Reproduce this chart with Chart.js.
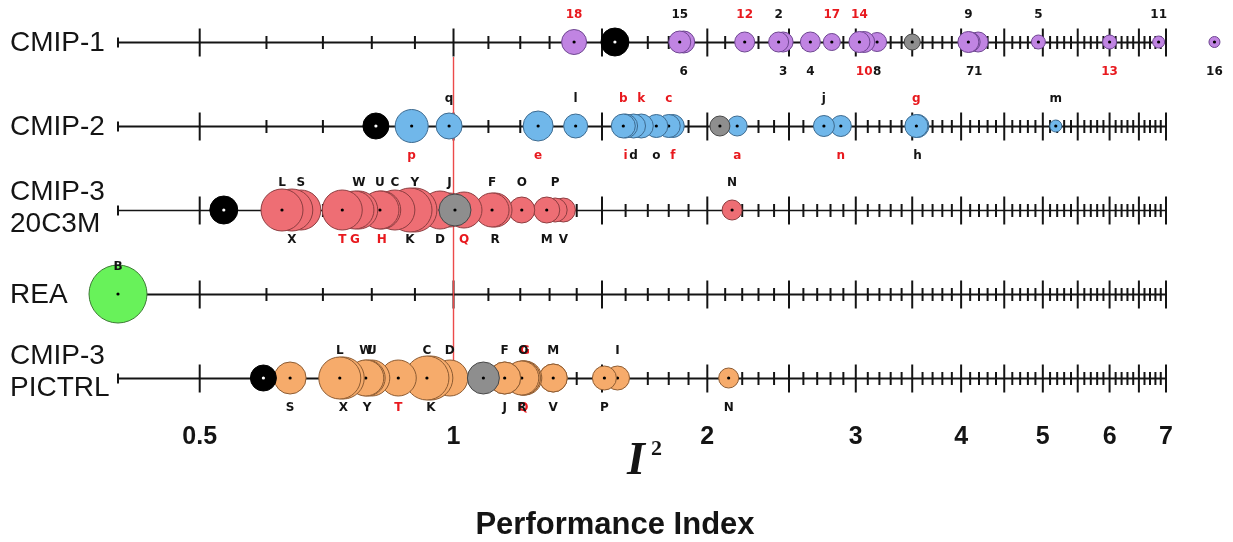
<!DOCTYPE html>
<html>
<head>
<meta charset="utf-8">
<script src="https://cdn.jsdelivr.net/npm/chart.js@4.4.1/dist/chart.umd.min.js"></script>
<style>
  html, body { margin: 0; padding: 0; background: #ffffff; }
  canvas { display: block; }
</style>
</head>
<body>
<canvas id="chart" width="1233" height="542"></canvas>
<script>
// Axis range and tick marks of the logarithmic performance-index scale
const xMin = 0.4;
const xAxisEnd = 7;      // drawn axis ends here
const xScaleMax = 8.3;   // scale keeps room for marks beyond the axis end
const majorTicks = [0.5, 1, 1.5, 2, 2.5, 3, 3.5, 4, 4.5, 5, 5.5, 6, 6.5, 7];
const tickLabels = ['0.5', '1', '2', '3', '4', '5', '6', '7'];

// Rows (top to bottom)
const rowNames = [['CMIP-1'], ['CMIP-2'], ['CMIP-3', '20C3M'], ['REA'], ['CMIP-3', 'PICTRL']];
const rowLevels = [5, 4, 3, 2, 1];

// CMIP-1 models
const cmip1Labels = ['18', '15', '6', '12', '2', '3', '4', '17', '14', '10', '8', '9', '7', '1', '5', '13', '11', '16'];
const cmip1Values = [1.39, 1.855, 1.875, 2.215, 2.43, 2.46, 2.65, 2.81, 3.03, 3.07, 3.18, 4.08, 4.10, 4.19, 4.94, 6.0, 6.86, 7.99];
const cmip1Sizes  = [12.5, 11, 11, 10, 10, 10, 10, 8.5, 10.5, 10.5, 9.5, 10.5, 10, 10, 7, 7, 6, 5.5];
const cmip1Sides  = ['top', 'top', 'bottom', 'top', 'top', 'bottom', 'bottom', 'top', 'top', 'bottom', 'bottom', 'top', 'bottom', 'bottom', 'top', 'bottom', 'top', 'bottom'];
const cmip1Flagged = ['18', '12', '17', '14', '10', '13'];

// CMIP-2 models
const cmip2Labels = ['p', 'q', 'e', 'l', 'b', 'i', 'd', 'k', 'o', 'c', 'f', 'a', 'j', 'n', 'g', 'h', 'm'];
const cmip2Values = [0.892, 0.988, 1.26, 1.396, 1.59, 1.60, 1.635, 1.67, 1.74, 1.80, 1.82, 2.17, 2.75, 2.88, 3.54, 3.55, 5.18];
const cmip2Sizes  = [16.5, 13, 15, 12, 12, 12, 12, 12, 11.5, 11.5, 11.5, 10, 10.5, 10.5, 11.5, 11.5, 6];
const cmip2Sides  = ['bottom', 'top', 'bottom', 'top', 'top', 'bottom', 'bottom', 'top', 'bottom', 'top', 'bottom', 'bottom', 'top', 'bottom', 'top', 'bottom', 'top'];
const cmip2Flagged = ['p', 'e', 'b', 'i', 'k', 'c', 'f', 'a', 'n', 'g'];

// CMIP-3 20th-century (20C3M) models
const c3histLabels = ['L', 'X', 'S', 'T', 'G', 'W', 'U', 'H', 'C', 'K', 'Y', 'D', 'J', 'Q', 'F', 'R', 'O', 'M', 'P', 'V', 'N'];
const c3histValues = [0.626, 0.643, 0.659, 0.738, 0.764, 0.772, 0.818, 0.822, 0.852, 0.888, 0.90, 0.964, 0.989, 1.029, 1.111, 1.12, 1.205, 1.29, 1.32, 1.35, 2.14];
const c3histSizes  = [21, 21, 20, 20, 19, 19, 19, 19, 20, 22, 22, 19, 17, 18, 17, 17, 13, 13, 12, 12, 10];
const c3histSides  = ['top', 'bottom', 'top', 'bottom', 'bottom', 'top', 'top', 'bottom', 'top', 'bottom', 'top', 'bottom', 'top', 'bottom', 'top', 'bottom', 'top', 'bottom', 'top', 'bottom', 'top'];
const c3histFlagged = ['T', 'G', 'H', 'Q'];

// Reanalysis
const reaLabels = ['B'];
const reaValues = [0.4];
const reaSizes  = [29];
const reaSides  = ['top'];
const reaFlagged = [];

// CMIP-3 pre-industrial control (PICTRL) models
const c3ctrlLabels = ['S', 'L', 'X', 'W', 'Y', 'U', 'T', 'C', 'K', 'D', 'J', 'F', 'R', 'O', 'Q', 'G', 'M', 'V', 'P', 'I', 'N'];
const c3ctrlValues = [0.64, 0.733, 0.74, 0.787, 0.79, 0.80, 0.86, 0.93, 0.94, 0.99, 1.15, 1.15, 1.205, 1.21, 1.21, 1.215, 1.313, 1.313, 1.51, 1.565, 2.12];
const c3ctrlSizes  = [16, 21, 21, 18, 18, 18, 18, 22, 22, 18, 16, 16, 17, 17, 17, 17, 14, 14, 12, 12, 10];
const c3ctrlSides  = ['bottom', 'top', 'bottom', 'top', 'bottom', 'top', 'bottom', 'top', 'bottom', 'top', 'bottom', 'top', 'bottom', 'top', 'bottom', 'top', 'top', 'bottom', 'bottom', 'top', 'bottom'];
const c3ctrlFlagged = ['T', 'Q', 'G'];

// Multi-model mean (black) and median (grey) index per row
const meanModelIndex   = [1.554, 0.809, 0.534, null, 0.595];
const meanModelSizes   = [14, 13, 14, null, 13];
const medianModelIndex = [3.50, 2.07, 1.004, null, 1.085];
const medianModelSizes = [8, 10, 16, null, 16];

const RED = '#e8191e';
const INK = '#141414';

const datasets = [];

function addRow(level, labels, values, sizes, sides, flagged, fill, border) {
  const pts = labels.map((lab, i) => ({ lab, v: values[i], r: sizes[i], side: sides[i], red: flagged.includes(lab) }));
  // rightmost drawn first so the better-scoring (left) models sit on top
  pts.sort((a, b) => b.v - a.v);
  pts.forEach(p => {
    datasets.push({
      data: [{ x: p.v, y: level, r: p.r }],
      backgroundColor: fill,
      borderColor: border,
      borderWidth: 1,
      clip: false,
      pointLabel: p.lab,
      labelSide: p.side,
      labelColor: p.red ? RED : INK,
      dotColor: '#000'
    });
  });
}

addRow(rowLevels[0], cmip1Labels, cmip1Values, cmip1Sizes, cmip1Sides, cmip1Flagged, '#c084e2', '#6d4590');
addRow(rowLevels[1], cmip2Labels, cmip2Values, cmip2Sizes, cmip2Sides, cmip2Flagged, '#70b7ea', '#3d6a8f');
addRow(rowLevels[2], c3histLabels, c3histValues, c3histSizes, c3histSides, c3histFlagged, '#ee6e74', '#8c3d40');
addRow(rowLevels[3], reaLabels, reaValues, reaSizes, reaSides, reaFlagged, '#68f25a', '#3c7a34');
addRow(rowLevels[4], c3ctrlLabels, c3ctrlValues, c3ctrlSizes, c3ctrlSides, c3ctrlFlagged, '#f6ab6b', '#8c5b32');

medianModelIndex.forEach((v, i) => {
  if (v === null) return;
  datasets.push({
    data: [{ x: v, y: rowLevels[i], r: medianModelSizes[i] }],
    backgroundColor: '#8e8e8e', borderColor: '#474747', borderWidth: 1,
    clip: false, dotColor: '#000'
  });
});
meanModelIndex.forEach((v, i) => {
  if (v === null) return;
  datasets.push({
    data: [{ x: v, y: rowLevels[i], r: meanModelSizes[i] }],
    backgroundColor: '#000000', borderColor: '#000000', borderWidth: 1,
    clip: false, dotColor: '#ffffff'
  });
});

// first pushed = drawn first (bottom of the stack)
datasets.forEach((d, i) => { d.order = datasets.length - i; });

// Axis lines, tick marks and the reference line at I2 = 1
const axesPlugin = {
  id: 'rowAxes',
  beforeDatasetsDraw(chart) {
    const { ctx, scales: { x, y } } = chart;
    const x0 = x.getPixelForValue(xMin);
    const x1 = x.getPixelForValue(xAxisEnd);
    ctx.save();
    ctx.strokeStyle = INK;
    ctx.lineCap = 'butt';
    rowLevels.forEach((lvl, ri) => {
      const yy = Math.round(y.getPixelForValue(lvl)) + 0.5;
      ctx.lineWidth = ri === 2 ? 1.3 : 2;
      ctx.beginPath(); ctx.moveTo(x0, yy); ctx.lineTo(x1, yy); ctx.stroke();
      ctx.lineWidth = 2;
      // end tick at the lower bound
      ctx.beginPath(); ctx.moveTo(x0, yy - 5); ctx.lineTo(x0, yy + 5); ctx.stroke();
      majorTicks.forEach(t => {
        const px = x.getPixelForValue(t);
        ctx.beginPath(); ctx.moveTo(px, yy - 14); ctx.lineTo(px, yy + 14); ctx.stroke();
      });
      for (let t = 6; t < 70; t++) {
        if (t % 5 === 0) continue;
        const px = x.getPixelForValue(t / 10);
        ctx.beginPath(); ctx.moveTo(px, yy - 6.5); ctx.lineTo(px, yy + 6.5); ctx.stroke();
      }
    });
    // reference line at index 1
    const xr = x.getPixelForValue(1);
    ctx.strokeStyle = '#ec4a4a';
    ctx.lineWidth = 1.4;
    ctx.beginPath();
    ctx.moveTo(xr, y.getPixelForValue(rowLevels[0]) + 15);
    ctx.lineTo(xr, y.getPixelForValue(rowLevels[4]));
    ctx.stroke();
    ctx.restore();
  },
  afterDatasetDraw(chart, args) {
    const el = args.meta.data[0];
    const ds = chart.data.datasets[args.index];
    if (!el) return;
    const ctx = chart.ctx;
    ctx.save();
    ctx.fillStyle = ds.dotColor || '#000';
    ctx.beginPath();
    ctx.arc(el.x, el.y, 1.6, 0, Math.PI * 2);
    ctx.fill();
    ctx.restore();
  },
  afterDraw(chart) {
    const { ctx, scales: { x, y } } = chart;
    ctx.save();
    // model labels above / below each bubble
    ctx.font = 'bold 12px "DejaVu Sans"';
    ctx.textAlign = 'center';
    ctx.textBaseline = 'middle';
    chart.data.datasets.forEach((ds, i) => {
      if (!ds.pointLabel) return;
      const el = chart.getDatasetMeta(i).data[0];
      ctx.fillStyle = ds.labelColor;
      const yy = ds.labelSide === 'top' ? el.y - 27 : el.y + 30;
      ctx.fillText(ds.pointLabel, el.x, yy);
    });

    // row names
    ctx.fillStyle = INK;
    ctx.textAlign = 'left';
    ctx.font = '28px "Liberation Sans", Arial, sans-serif';
    rowNames.forEach((lines, ri) => {
      const yy = y.getPixelForValue(rowLevels[ri]);
      if (lines.length === 1) {
        ctx.fillText(lines[0], 10, yy + 1);
      } else {
        const up = ri === 2 ? 18 : 22;
        ctx.fillText(lines[0], 10, yy - up);
        ctx.fillText(lines[1], 10, yy - up + 32);
      }
    });

    // tick labels
    ctx.textAlign = 'center';
    ctx.font = 'bold 25px "Liberation Sans", Arial, sans-serif';
    tickLabels.forEach(t => {
      ctx.fillText(t, x.getPixelForValue(parseFloat(t)), 437);
    });

    // I² symbol
    ctx.textBaseline = 'alphabetic';
    ctx.font = 'bold italic 46px "Liberation Serif", "DejaVu Serif", serif';
    ctx.textAlign = 'left';
    ctx.fillText('I', 627, 474);
    ctx.font = 'bold 22px "Liberation Serif", "DejaVu Serif", serif';
    ctx.fillText('2', 651, 455);

    // axis title
    ctx.textAlign = 'center';
    ctx.font = 'bold 31px "Liberation Sans", Arial, sans-serif';
    ctx.fillText('Performance Index', 615, 534);
    ctx.restore();
  }
};

new Chart(document.getElementById('chart'), {
  type: 'bubble',
  data: { datasets },
  options: {
    responsive: false,
    animation: false,
    events: [],
    layout: { autoPadding: false, padding: { left: 118, right: 4.6, top: 0, bottom: 80 } },
    plugins: { legend: { display: false }, tooltip: { enabled: false } },
    scales: {
      x: { type: 'logarithmic', min: xMin, max: xScaleMax, display: false },
      y: { type: 'linear', min: 0, max: 5.5, display: false }
    }
  },
  plugins: [axesPlugin]
});
</script>
</body>
</html>
